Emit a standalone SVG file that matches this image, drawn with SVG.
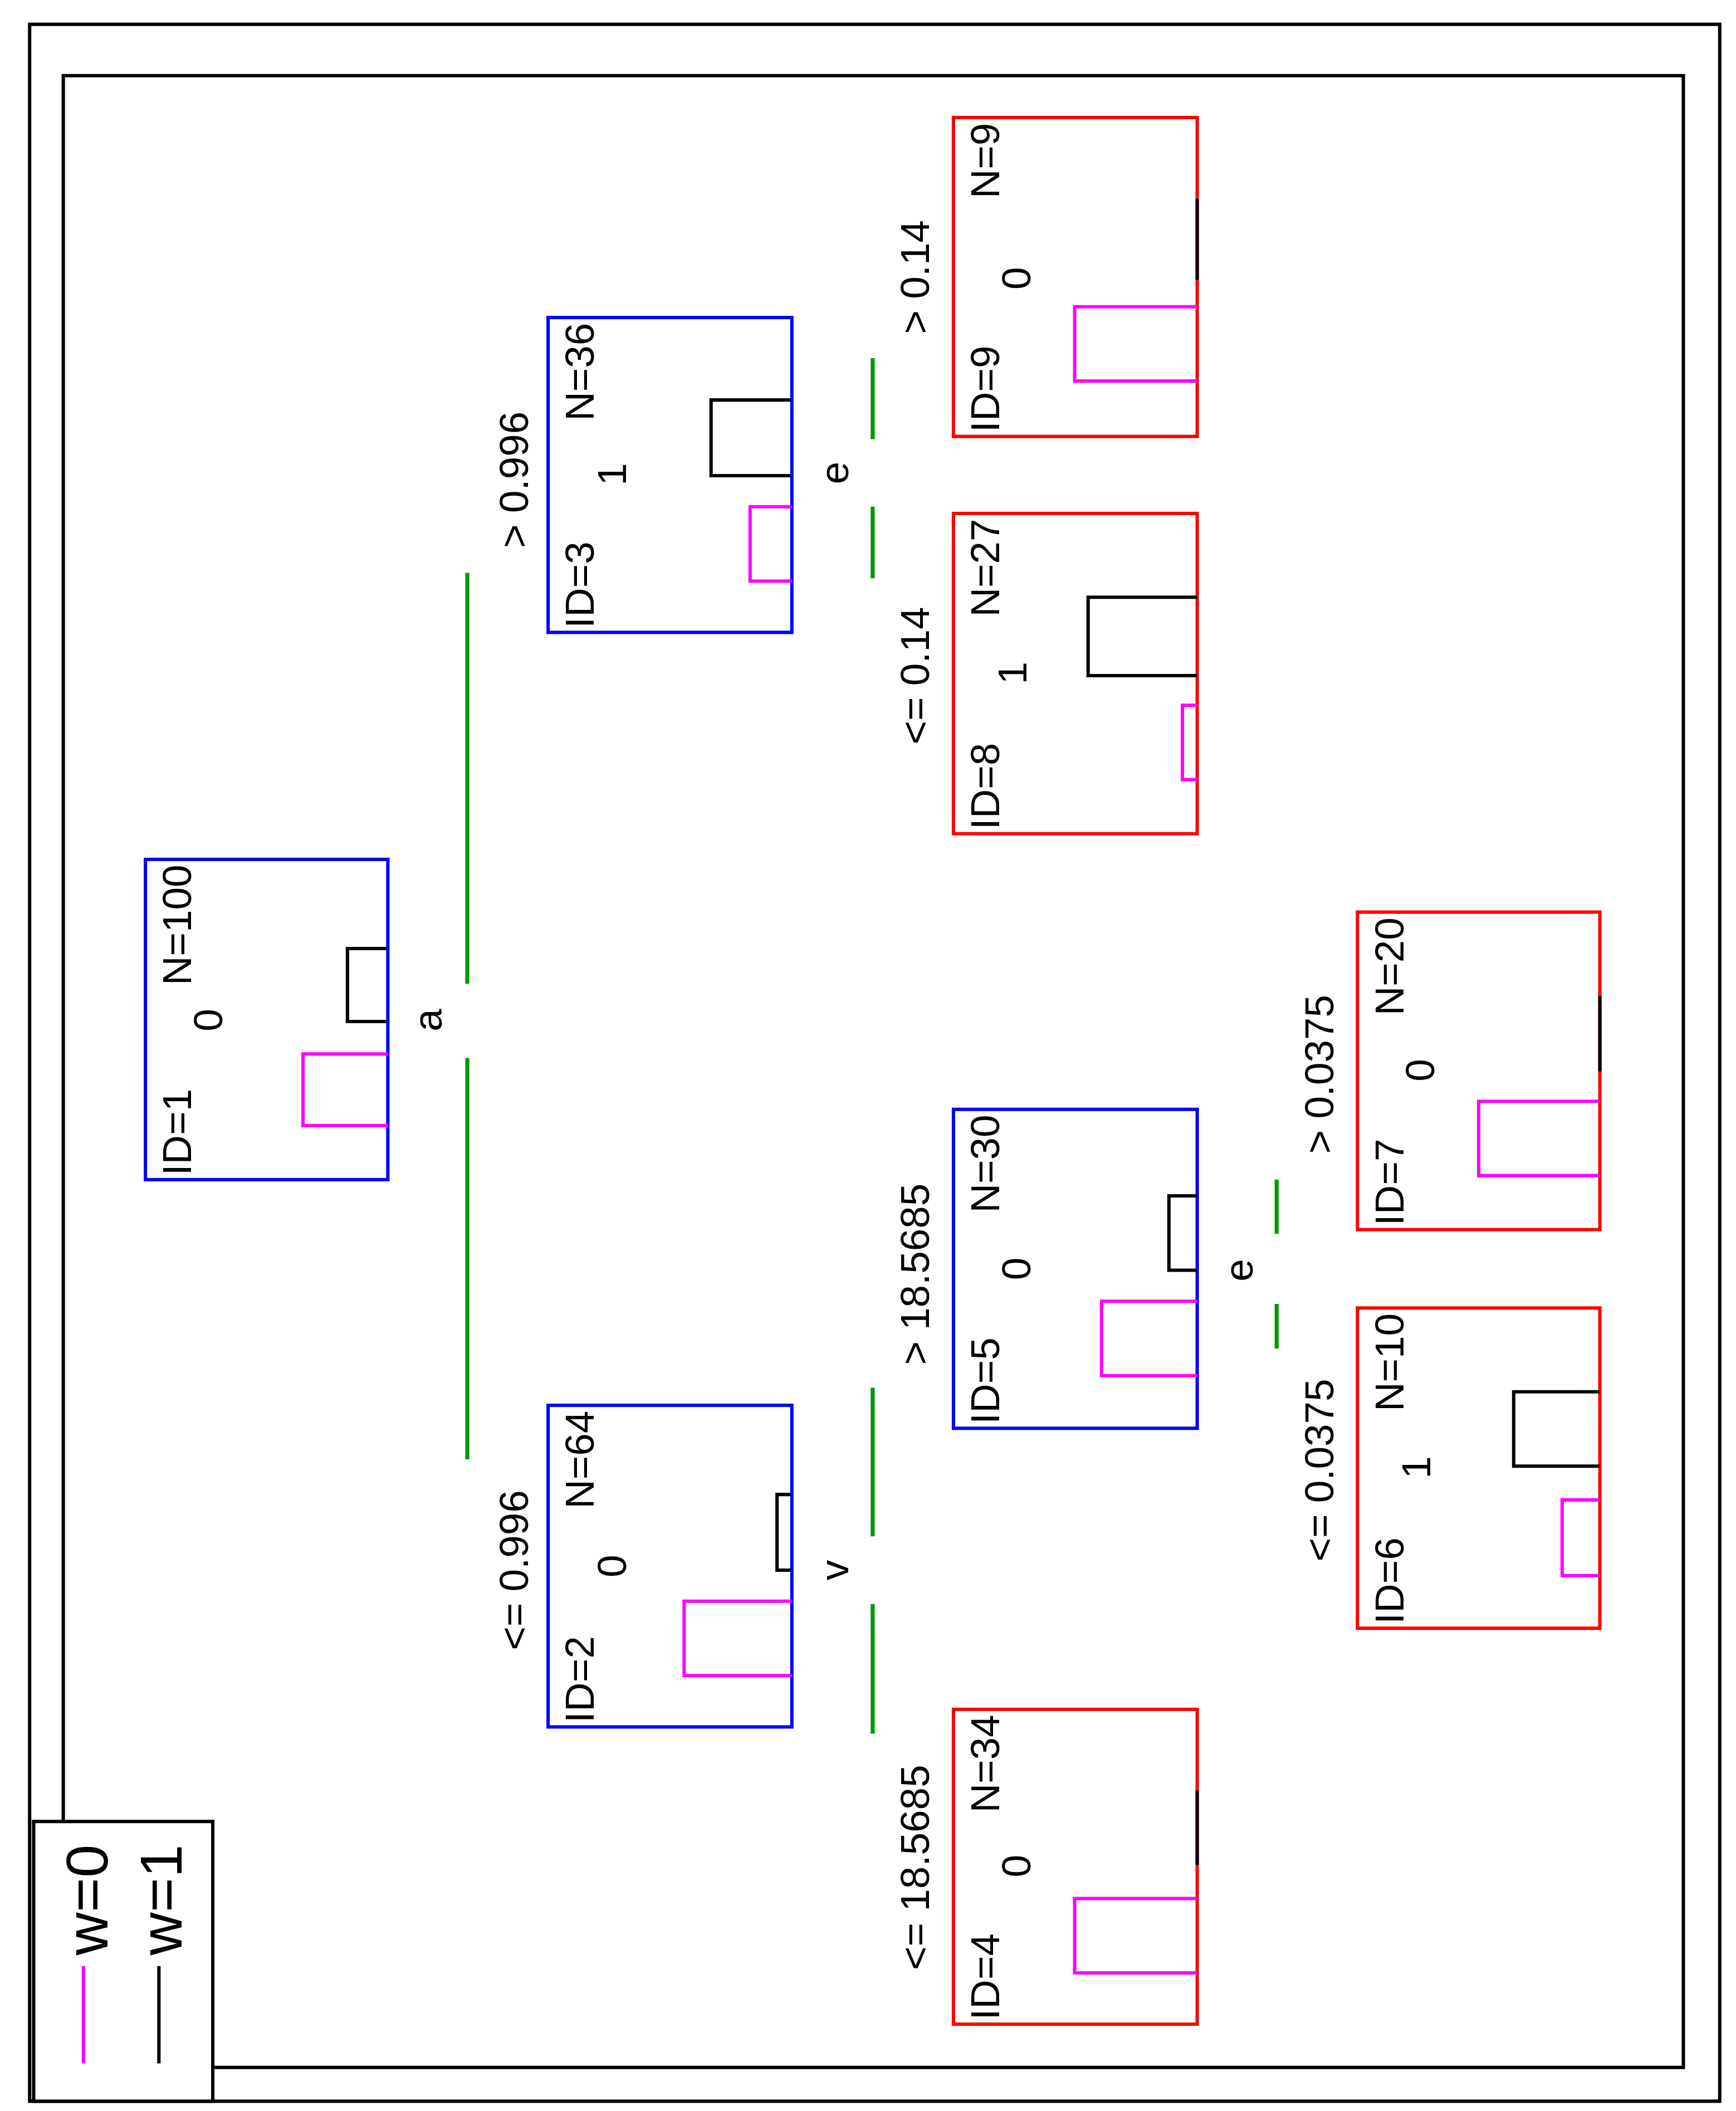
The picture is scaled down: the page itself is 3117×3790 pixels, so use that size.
<svg xmlns="http://www.w3.org/2000/svg" width="3117" height="3790" viewBox="0 0 3117 3790">
<style>
.f{fill:none;stroke-width:2.5}
.k{stroke:#000}.b{stroke:#0000ff}.r{stroke:#ff0000}.m{stroke:#ff00ff}.g{stroke:#009900;stroke-width:3}
text{font-family:"Liberation Sans",Arial,sans-serif;font-size:30px;fill:#000}
.lg{font-size:44px}
</style>
<rect width="3117" height="3790" fill="#fff"/>
<g transform="scale(2.418,2.426)">
<g id="frame">
<rect class="f k" x="22" y="18" width="1255" height="1537"/>
<rect class="f k" x="47" y="56" width="1203" height="1474"/>
</g>
<g id="legend">
<rect class="f k" x="25" y="1348" width="133" height="207" style="fill:#fff"/>
<text class="lg" transform="translate(80,1447) rotate(-90)">w=0</text>
<text class="lg" transform="translate(135,1447) rotate(-90)">w=1</text>
<line class="f m" x1="62" y1="1455" x2="62" y2="1527"/>
<line class="f k" x1="118" y1="1455" x2="118" y2="1527"/>
</g>
<g id="connectors">
<line class="g" x1="347" y1="424" x2="347" y2="728"/>
<line class="g" x1="347" y1="783" x2="347" y2="1080"/>
<line class="g" x1="648" y1="265" x2="648" y2="325"/>
<line class="g" x1="648" y1="375" x2="648" y2="428"/>
<line class="g" x1="648" y1="1027" x2="648" y2="1137"/>
<line class="g" x1="648" y1="1187" x2="648" y2="1283"/>
<line class="g" x1="948" y1="873" x2="948" y2="913"/>
<line class="g" x1="948" y1="965" x2="948" y2="998"/>
<text transform="translate(328,755) rotate(-90)" text-anchor="middle">a</text>
<text transform="translate(630,350) rotate(-90)" text-anchor="middle">e</text>
<text transform="translate(630,1162) rotate(-90)" text-anchor="middle">v</text>
<text transform="translate(930,940) rotate(-90)" text-anchor="middle">e</text>
<text transform="translate(392,355) rotate(-90)" text-anchor="middle">&gt; 0.996</text>
<text transform="translate(392,1162) rotate(-90)" text-anchor="middle">&lt;= 0.996</text>
<text transform="translate(690,205) rotate(-90)" text-anchor="middle">&gt; 0.14</text>
<text transform="translate(690,500) rotate(-90)" text-anchor="middle">&lt;= 0.14</text>
<text transform="translate(690,943) rotate(-90)" text-anchor="middle">&gt; 18.5685</text>
<text transform="translate(690,1382) rotate(-90)" text-anchor="middle">&lt;= 18.5685</text>
<text transform="translate(990,795) rotate(-90)" text-anchor="middle">&gt; 0.0375</text>
<text transform="translate(990,1088) rotate(-90)" text-anchor="middle">&lt;= 0.0375</text>
</g>
<g id="n1">
<rect class="f b" x="108" y="636" width="180" height="237"/>
<polyline class="f m" points="288,780 225,780 225,833 288,833"/>
<polyline class="f k" points="288,702 258,702 258,756 288,756"/>
<text transform="translate(142,870) rotate(-90)">ID=1</text>
<text transform="translate(165,755) rotate(-90)" text-anchor="middle">0</text>
<text transform="translate(142,640) rotate(-90)" text-anchor="end">N=100</text>
</g>
<g id="n2">
<rect class="f b" x="407" y="1040" width="181" height="238"/>
<polyline class="f m" points="588,1185 508,1185 508,1240 588,1240"/>
<polyline class="f k" points="588,1106 577,1106 577,1162 588,1162"/>
<text transform="translate(441,1275) rotate(-90)">ID=2</text>
<text transform="translate(465,1159) rotate(-90)" text-anchor="middle">0</text>
<text transform="translate(441,1044) rotate(-90)" text-anchor="end">N=64</text>
</g>
<g id="n3">
<rect class="f b" x="407" y="235" width="181" height="233"/>
<polyline class="f m" points="588,375 557,375 557,430 588,430"/>
<polyline class="f k" points="588,296 528,296 528,352 588,352"/>
<text transform="translate(441,465) rotate(-90)">ID=3</text>
<text transform="translate(465,351) rotate(-90)" text-anchor="middle">1</text>
<text transform="translate(441,239) rotate(-90)" text-anchor="end">N=36</text>
</g>
<g id="n4">
<rect class="f r" x="708" y="1265" width="181" height="233"/>
<polyline class="f m" points="889,1405 798,1405 798,1460 889,1460"/>
<line class="f k" x1="889" y1="1325" x2="889" y2="1380"/>
<text transform="translate(742,1495) rotate(-90)">ID=4</text>
<text transform="translate(765,1381) rotate(-90)" text-anchor="middle">0</text>
<text transform="translate(742,1269) rotate(-90)" text-anchor="end">N=34</text>
</g>
<g id="n5">
<rect class="f b" x="708" y="821" width="181" height="236"/>
<polyline class="f m" points="889,963 818,963 818,1018 889,1018"/>
<polyline class="f k" points="889,885 868,885 868,940 889,940"/>
<text transform="translate(742,1054) rotate(-90)">ID=5</text>
<text transform="translate(765,939) rotate(-90)" text-anchor="middle">0</text>
<text transform="translate(742,825) rotate(-90)" text-anchor="end">N=30</text>
</g>
<g id="n6">
<rect class="f r" x="1008" y="968" width="180" height="237"/>
<polyline class="f m" points="1188,1110 1160,1110 1160,1166 1188,1166"/>
<polyline class="f k" points="1188,1030 1124,1030 1124,1085 1188,1085"/>
<text transform="translate(1042,1202) rotate(-90)">ID=6</text>
<text transform="translate(1062,1086) rotate(-90)" text-anchor="middle">1</text>
<text transform="translate(1042,972) rotate(-90)" text-anchor="end">N=10</text>
</g>
<g id="n7">
<rect class="f r" x="1008" y="675" width="180" height="235"/>
<polyline class="f m" points="1188,815 1098,815 1098,870 1188,870"/>
<line class="f k" x1="1188" y1="737" x2="1188" y2="793"/>
<text transform="translate(1042,907) rotate(-90)">ID=7</text>
<text transform="translate(1065,792) rotate(-90)" text-anchor="middle">0</text>
<text transform="translate(1042,679) rotate(-90)" text-anchor="end">N=20</text>
</g>
<g id="n8">
<rect class="f r" x="708" y="380" width="181" height="237"/>
<polyline class="f m" points="889,522 878,522 878,577 889,577"/>
<polyline class="f k" points="889,442 808,442 808,500 889,500"/>
<text transform="translate(742,614) rotate(-90)">ID=8</text>
<text transform="translate(762,498) rotate(-90)" text-anchor="middle">1</text>
<text transform="translate(742,384) rotate(-90)" text-anchor="end">N=27</text>
</g>
<g id="n9">
<rect class="f r" x="708" y="87" width="181" height="236"/>
<polyline class="f m" points="889,227 798,227 798,282 889,282"/>
<line class="f k" x1="889" y1="147" x2="889" y2="207"/>
<text transform="translate(742,320) rotate(-90)">ID=9</text>
<text transform="translate(765,206) rotate(-90)" text-anchor="middle">0</text>
<text transform="translate(742,91) rotate(-90)" text-anchor="end">N=9</text>
</g>
</g>
</svg>
